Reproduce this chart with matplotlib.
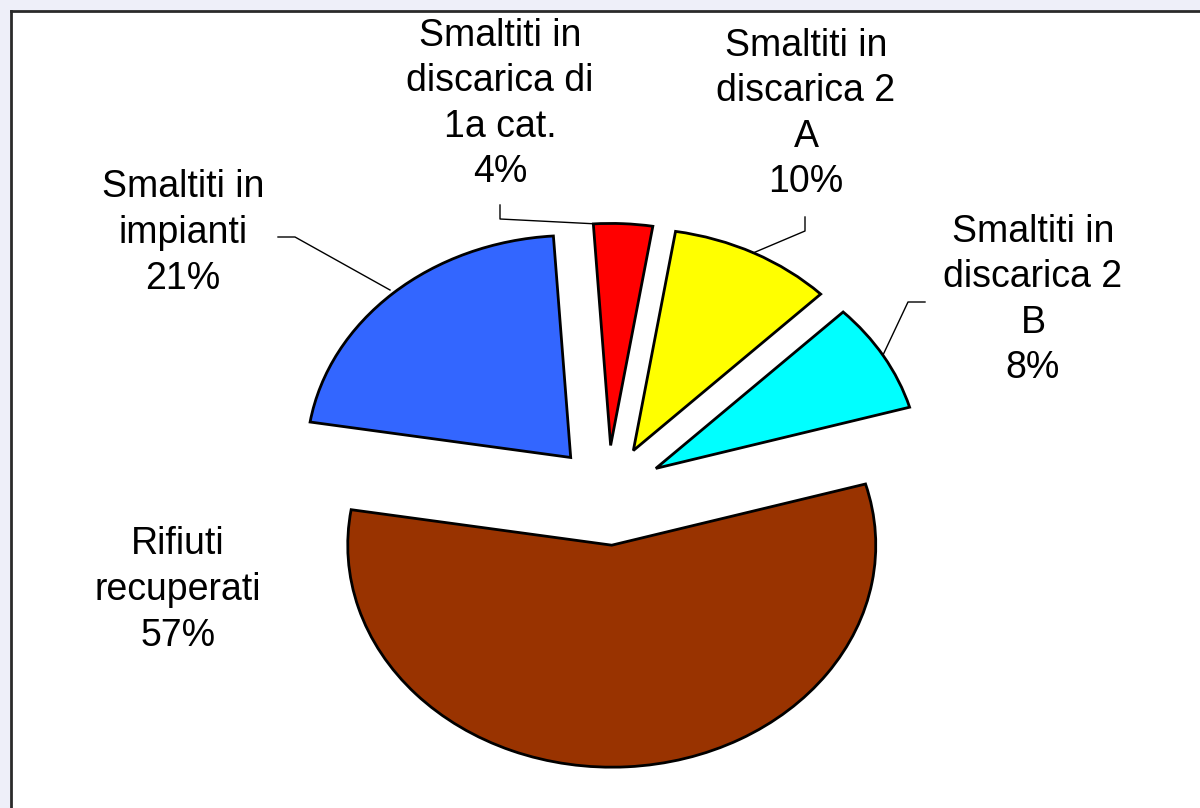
import matplotlib
matplotlib.use("Agg")
import matplotlib.pyplot as plt

# ---- data ----
categories = ["Smaltiti in\ndiscarica 2\nB", "Smaltiti in\ndiscarica 2\nA",
              "Smaltiti in\ndiscarica di\n1a cat.", "Smaltiti in\nimpianti",
              "Rifiuti\nrecuperati"]
values = [8, 10, 3.6, 21.4, 57]
colors = ["#00FFFF", "#FFFF00", "#FF0000", "#3366FF", "#993300"]
explode = [0.21, 0.21, 0.21, 0.21, 0.24]

W, H = 1200, 808
fig = plt.figure(figsize=(W / 100, H / 100), dpi=100)
fig.patch.set_facecolor("#EEEFF9")

# white chart area with frame (left and top visible)
bg = fig.add_axes([11 / W, 0, 1 - 11 / W, 1 - 11 / H])
bg.set_facecolor("white")
bg.set_xticks([]); bg.set_yticks([])
for s in ["right", "bottom"]:
    bg.spines[s].set_visible(False)
for s in ["left", "top"]:
    bg.spines[s].set_linewidth(2)
    bg.spines[s].set_color("#2a2a2a")

# pie axes: elliptical pie (rx=264 px, ry=222 px), center at (608, 492) image px
cx, cy = 608, 808 - 492
rx, ry = 264, 222
ax = fig.add_axes([0, 0, 1, 1])
ax.pie(values, colors=colors, explode=explode, startangle=16, counterclock=True,
       wedgeprops=dict(edgecolor="black", linewidth=2))
ax.set_aspect("auto")
ax.set_xlim((0 - cx) / rx, (W - cx) / rx)
ax.set_ylim((0 - cy) / ry, (H - cy) / ry)
ax.set_axis_off()
ax.patch.set_alpha(0)

# overlay axes in pixel coordinates for labels and leader lines
ov = fig.add_axes([0, 0, 1, 1])
ov.set_xlim(0, W)
ov.set_ylim(H, 0)
ov.set_axis_off()
ov.patch.set_alpha(0)

pcts = [f"{round(v)}%" for v in values]
label_pos = [(1033, 300), (806, 114), (500, 104), (183, 233), (178, 590)]
for cat, p, (x, y) in zip(categories, pcts, label_pos):
    ov.text(x, y, cat + "\n" + p, ha="center", va="center", fontsize=27,
            family="Liberation Sans", linespacing=1.34, color="black")

leaders = [
    ([925, 908, 883], [302, 302, 355]),
    ([805, 805, 753], [217, 231, 253]),
    ([500, 500, 598], [205, 219, 224]),
    ([278, 295, 390], [237, 237, 290]),
]
for xs, ys in leaders:
    ov.plot(xs, ys, color="black", linewidth=1)

fig.savefig("out.png", dpi=100, facecolor=fig.get_facecolor())
